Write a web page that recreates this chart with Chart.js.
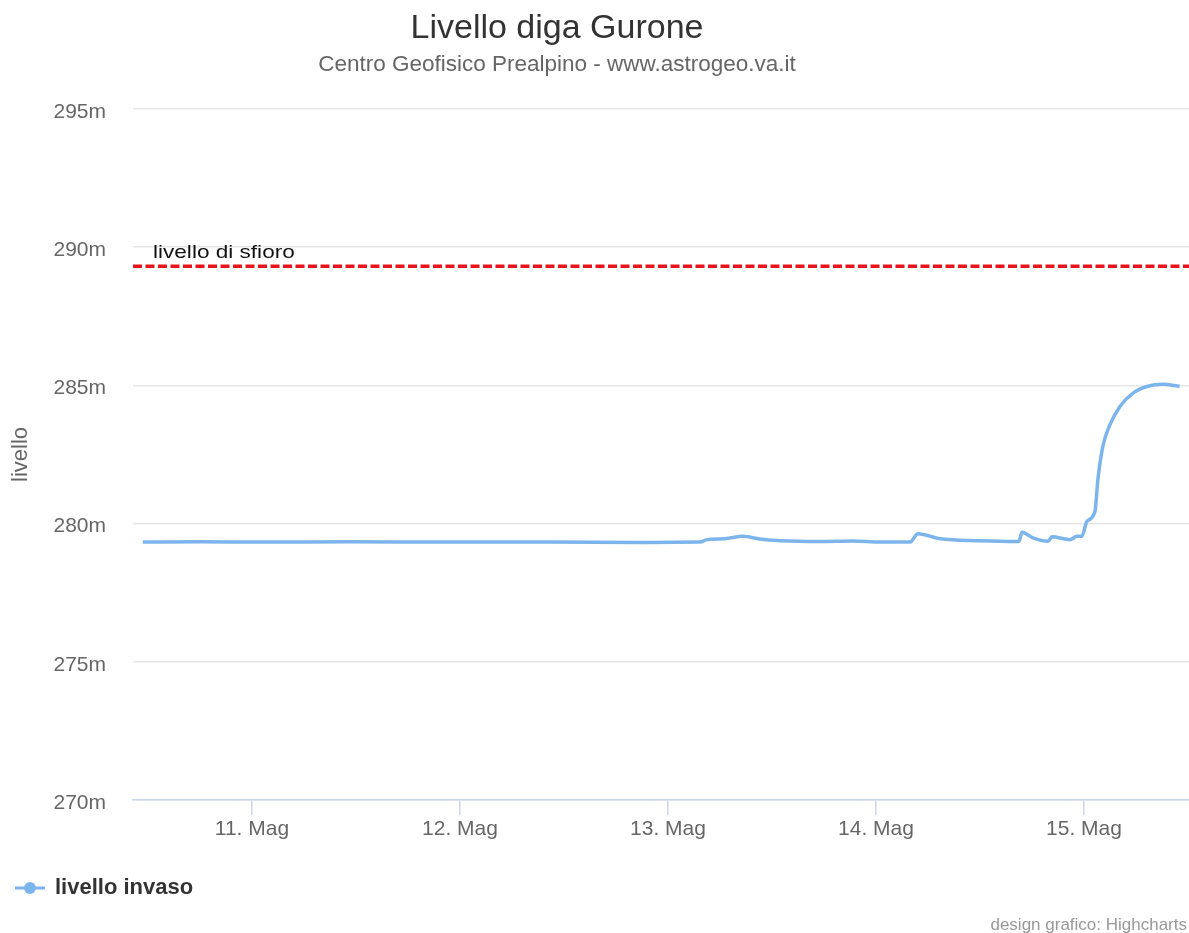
<!DOCTYPE html>
<html>
<head>
<meta charset="utf-8">
<title>Livello diga Gurone</title>
<script src="https://cdn.jsdelivr.net/npm/chart.js@4/dist/chart.umd.min.js"></script>
<style>
  html, body { margin: 0; padding: 0; background: #fff; }
  #wrap { width: 1189px; height: 933px; }
</style>
</head>
<body>
<div id="wrap"><canvas id="chart" width="1189" height="933"></canvas></div>
<script>
// time in days since 10 May 00:00, level in metres
const days = [0.475, 0.75, 1.04, 1.47, 1.95, 2.43, 2.865, 3.154, 3.188, 3.274, 3.36, 3.44, 3.54, 3.73, 3.89, 4.02,
  4.163, 4.202, 4.308, 4.5, 4.668, 4.688, 4.702, 4.755, 4.827, 4.846, 4.933, 4.966, 4.99, 5.014, 5.053, 5.067,
  5.091, 5.125, 5.173, 5.236, 5.303, 5.38, 5.46];
const levels = [279.33, 279.34, 279.33, 279.34, 279.33, 279.33, 279.32, 279.33, 279.42, 279.45, 279.54, 279.44,
  279.38, 279.35, 279.37, 279.33, 279.33, 279.63, 279.45, 279.38, 279.35, 279.36, 279.69, 279.48, 279.36, 279.52,
  279.42, 279.54, 279.54, 280.08, 280.45, 281.59, 282.8, 283.58, 284.24, 284.72, 284.96, 285.04, 284.97];
const dayTicks = [1, 2, 3, 4, 5];
const dayLabels = ['11. Mag', '12. Mag', '13. Mag', '14. Mag', '15. Mag'];
const xMin = 0.428;
const xMax = 5.505;
const sfioroLevel = 289.31;
const seriesName = 'livello invaso';

const FONT = '"Liberation Sans", Arial, Helvetica, sans-serif';

const decor = {
  id: 'decor',
  afterDraw(chart) {
    const ctx = chart.ctx;
    const y = chart.scales.y;
    ctx.save();
    // title + subtitle
    ctx.textAlign = 'center';
    ctx.textBaseline = 'alphabetic';
    ctx.fillStyle = '#333333';
    ctx.font = '34px ' + FONT;
    ctx.fillText('Livello diga Gurone', 557, 38);
    ctx.fillStyle = '#666666';
    ctx.font = '22.5px ' + FONT;
    ctx.fillText('Centro Geofisico Prealpino - www.astrogeo.va.it', 557, 71);

    // label on the spill level line (text looks stretched in the original)
    ctx.save();
    ctx.textAlign = 'left';
    ctx.fillStyle = '#111111';
    ctx.font = '18.5px ' + FONT;
    ctx.translate(153, y.getPixelForValue(sfioroLevel) - 8);
    ctx.scale(1.22, 1);
    ctx.fillText('livello di sfioro', 0, 0);
    ctx.restore();

    // legend
    const ly = 888;
    ctx.strokeStyle = '#7cb5ec';
    ctx.lineWidth = 3;
    ctx.beginPath();
    ctx.moveTo(15, ly);
    ctx.lineTo(45, ly);
    ctx.stroke();
    ctx.fillStyle = '#7cb5ec';
    ctx.beginPath();
    ctx.arc(30, ly, 6, 0, Math.PI * 2);
    ctx.fill();
    ctx.textAlign = 'left';
    ctx.fillStyle = '#333333';
    ctx.font = 'bold 22px ' + FONT;
    ctx.textBaseline = 'middle';
    ctx.fillText(seriesName, 55, ly);

    // credits
    ctx.textAlign = 'right';
    ctx.textBaseline = 'alphabetic';
    ctx.fillStyle = '#999999';
    ctx.font = '17px ' + FONT;
    ctx.fillText('design grafico: Highcharts', 1187, 930);
    ctx.restore();
  }
};

new Chart(document.getElementById('chart'), {
  type: 'line',
  data: {
    datasets: [{
      label: seriesName,
      data: days.map((d, i) => ({x: d, y: levels[i]})),
      borderColor: '#7cb5ec',
      backgroundColor: '#7cb5ec',
      borderWidth: 3.5,
      pointRadius: 0,
      cubicInterpolationMode: 'monotone',
      fill: false
    }, {
      label: 'livello di sfioro',
      data: [{x: xMin, y: sfioroLevel}, {x: xMax, y: sfioroLevel}],
      borderColor: '#e8141b',
      borderWidth: 3.3,
      borderDash: [9, 3.5],
      pointRadius: 0,
      fill: false
    }]
  },
  options: {
    responsive: false,
    animation: false,
    layout: {padding: {top: 109, right: 0, left: 0, bottom: 0}},
    plugins: {
      legend: {display: false},
      title: {display: false},
      tooltip: {enabled: false}
    },
    scales: {
      x: {
        type: 'linear',
        min: xMin,
        max: xMax,
        afterFit: (scale) => { scale.height = 133; },
        afterBuildTicks: (scale) => { scale.ticks = dayTicks.map(v => ({value: v})); },
        grid: {
          drawOnChartArea: false,
          drawTicks: true,
          tickLength: 15,
          color: '#ccd6eb',
          lineWidth: 1.5
        },
        border: {color: '#ccd6eb', width: 1.5},
        ticks: {
          padding: 2,
          color: '#666666',
          font: {family: FONT, size: 21},
          maxRotation: 0,
          callback: (v) => dayLabels[dayTicks.indexOf(v)] || ''
        }
      },
      y: {
        min: 270,
        max: 295,
        afterFit: (scale) => { scale.width = 133; },
        grid: {color: '#e6e6e6', lineWidth: 1.5, drawTicks: false},
        border: {display: false},
        ticks: {
          stepSize: 5,
          padding: 27,
          labelOffset: 3,
          color: '#666666',
          font: {family: FONT, size: 21},
          callback: (v) => v + 'm'
        },
        title: {
          display: true,
          text: 'livello',
          color: '#666666',
          font: {family: FONT, size: 22},
          padding: {top: 8, bottom: 0}
        }
      }
    }
  },
  plugins: [decor]
});
</script>
</body>
</html>
